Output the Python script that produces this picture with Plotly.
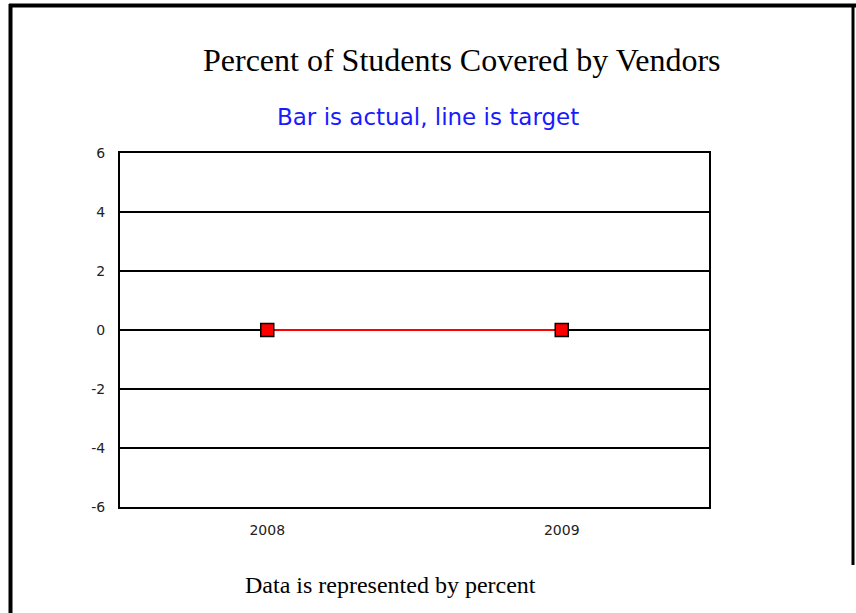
import plotly.graph_objects as go

categories = ["2008", "2009"]
target_values = [0, 0]
y_ticks = [-6, -4, -2, 0, 2, 4, 6]
y_tick_labels = ["-6", "-4", "-2", "0", "2", "4", "6"]

W, H = 856, 613
L, R, T, B = 120, 709, 153, 507
PW, PH = R - L, B - T

def px(x):
    return (x - L) / PW

def py(y):
    return (B - y) / PH

fig = go.Figure()
fig.add_trace(go.Scatter(
    x=categories, y=target_values, mode="lines+markers",
    line=dict(color="#ff0000", width=2),
    marker=dict(symbol="square", size=13, color="#ff0000",
                line=dict(color="#000000", width=1.5)),
    showlegend=False))

tick_font = dict(family="DejaVu Sans, Verdana, sans-serif", size=14, color="#222")

fig.update_layout(
    width=W, height=H,
    margin=dict(l=L, r=W - R, t=T, b=H - B, pad=0),
    paper_bgcolor="white", plot_bgcolor="white",
    xaxis=dict(type="category", range=[-0.5, 1.5], showgrid=False,
               showline=True, linecolor="black", linewidth=2, mirror=True,
               ticks="", tickfont=tick_font,
               ticklabelstandoff=9, zeroline=False, fixedrange=True),
    yaxis=dict(range=[-6, 6], tickvals=y_ticks, ticktext=y_tick_labels,
               showgrid=True, gridcolor="black",
               gridwidth=2, zeroline=True, zerolinecolor="black", zerolinewidth=2,
               showline=True, linecolor="black", linewidth=2, mirror=True,
               ticks="", tickfont=tick_font,
               ticklabelstandoff=10, fixedrange=True),
    annotations=[
        dict(text="Percent of Students Covered by Vendors", x=px(462), y=py(60),
             xref="paper", yref="paper", showarrow=False, xanchor="center", yanchor="middle",
             font=dict(family="Liberation Serif, Times New Roman, serif", size=32, color="black")),
        dict(text="Bar is actual, line is target", x=px(428), y=py(117),
             xref="paper", yref="paper", showarrow=False, xanchor="center", yanchor="middle",
             font=dict(family="DejaVu Sans, Verdana, sans-serif", size=23, color="#1a1aff")),
        dict(text="Data is represented by percent", x=px(390), y=py(585),
             xref="paper", yref="paper", showarrow=False, xanchor="center", yanchor="middle",
             font=dict(family="Liberation Serif, Times New Roman, serif", size=24, color="black")),
    ],
    shapes=[
        dict(type="line", xref="paper", yref="paper", x0=px(10.5), x1=px(10.5), y0=py(4), y1=py(613),
             line=dict(color="black", width=4)),
        dict(type="line", xref="paper", yref="paper", x0=px(9), x1=px(856), y0=py(5.5), y1=py(5.5),
             line=dict(color="black", width=4)),
        dict(type="line", xref="paper", yref="paper", x0=px(853), x1=px(853), y0=py(4), y1=py(565),
             line=dict(color="black", width=3)),
    ],
)

fig.write_html("out.html", config={"displayModeBar": False},
               post_script="document.body.style.margin='0';document.body.style.overflow='hidden';")
